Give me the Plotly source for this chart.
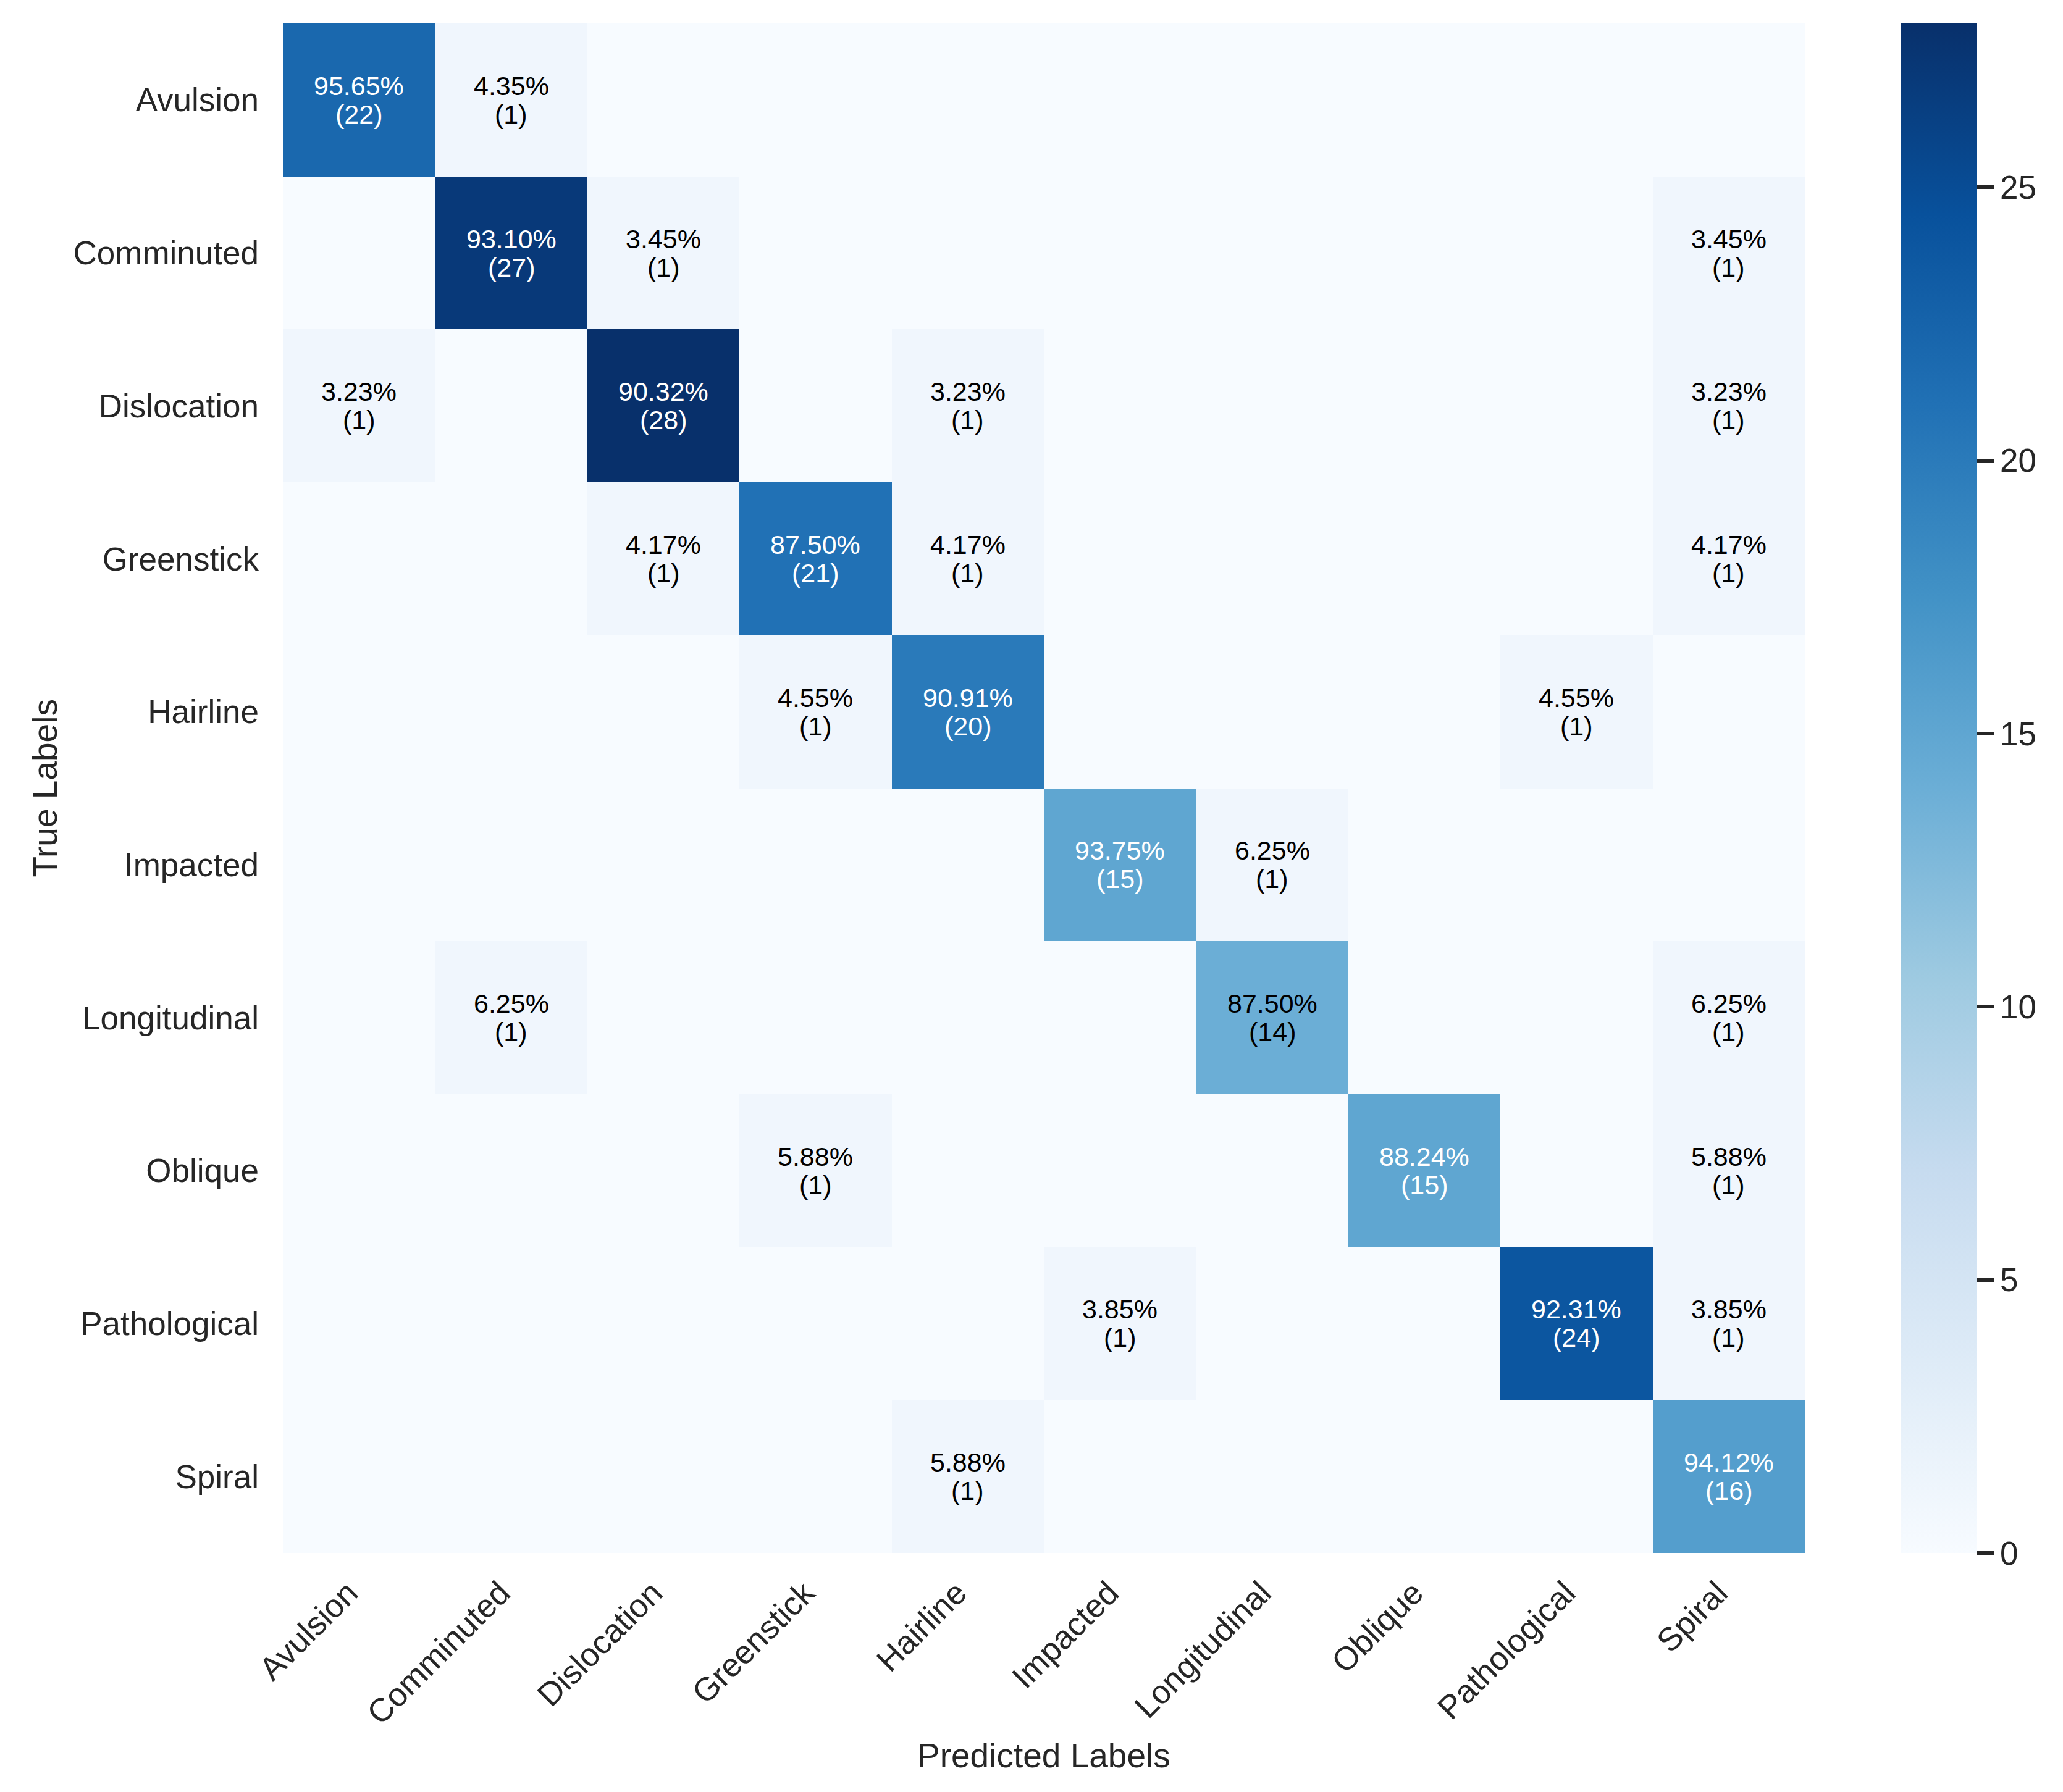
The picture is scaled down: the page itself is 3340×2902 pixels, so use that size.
import plotly.graph_objects as go

labels = ["Avulsion", "Comminuted", "Dislocation", "Greenstick", "Hairline",
          "Impacted", "Longitudinal", "Oblique", "Pathological", "Spiral"]

counts = [
    [22, 1, 0, 0, 0, 0, 0, 0, 0, 0],
    [0, 27, 1, 0, 0, 0, 0, 0, 0, 1],
    [1, 0, 28, 0, 1, 0, 0, 0, 0, 1],
    [0, 0, 1, 21, 1, 0, 0, 0, 0, 1],
    [0, 0, 0, 1, 20, 0, 0, 0, 1, 0],
    [0, 0, 0, 0, 0, 15, 1, 0, 0, 0],
    [0, 1, 0, 0, 0, 0, 14, 0, 0, 1],
    [0, 0, 0, 1, 0, 0, 0, 15, 0, 1],
    [0, 0, 0, 0, 0, 1, 0, 0, 24, 1],
    [0, 0, 0, 0, 1, 0, 0, 0, 0, 16],
]

cbar_ticks = [0, 5, 10, 15, 20, 25]

blues = ["#f7fbff", "#deebf7", "#c6dbef", "#9ecae1", "#6baed6",
         "#4292c6", "#2171b5", "#08519c", "#08306b"]
colorscale = [[i / (len(blues) - 1), c] for i, c in enumerate(blues)]

W, H = 3340, 2902
L, R, T, B = 458, 2922, 38, 2515
FONT = "Liberation Sans, Arial, sans-serif"
TXT = "#262626"
XLABEL_SHIFT = 0.07  # rotated labels end left of cell centre (right-aligned bbox)

n = len(labels)
idx = list(range(n))
zmax = max(max(r) for r in counts)
thresh = zmax / 2

fig = go.Figure()
fig.add_trace(go.Heatmap(
    z=counts, x=idx, y=idx,
    colorscale=colorscale, zmin=0, zmax=zmax,
    hoverinfo="skip",
    colorbar=dict(
        x=(3077 - L) / (R - L), xanchor="left", xpad=0,
        y=0.5, yanchor="middle", ypad=0,
        len=1, lenmode="fraction",
        thickness=123, thicknessmode="pixels",
        outlinewidth=0,
        tickvals=cbar_ticks, ticks="outside", ticklen=28, tickwidth=6,
        tickcolor=TXT,
        tickfont=dict(family=FONT, size=53, color=TXT),
    ),
))

annotations = []
for i, row in enumerate(counts):
    tot = sum(row)
    for j, v in enumerate(row):
        if v == 0:
            continue
        tc = "white" if v > thresh else "black"
        pct = 100 * v / tot
        for txt, shift in ((f"{pct:.2f}%", 23), (f"({v})", -23)):
            annotations.append(dict(
                x=j, y=i, xref="x", yref="y",
                text=txt, showarrow=False, yshift=shift,
                font=dict(family=FONT, size=43, color=tc),
            ))

annotations.append(dict(
    text="Predicted Labels", xref="paper", yref="paper",
    x=0.5, y=(B - 2843) / (B - T), xanchor="center", yanchor="middle",
    showarrow=False, font=dict(family=FONT, size=55, color=TXT),
))
annotations.append(dict(
    text="True Labels", xref="paper", yref="paper",
    x=(72 - L) / (R - L), y=0.5, xanchor="center", yanchor="middle",
    textangle=-90, showarrow=False, font=dict(family=FONT, size=55, color=TXT),
))

fig.update_layout(
    width=W, height=H,
    margin=dict(l=L, r=W - R, t=T, b=H - B, pad=0),
    paper_bgcolor="white", plot_bgcolor="white",
    annotations=annotations,
    xaxis=dict(
        range=[-0.5, n - 0.5], showgrid=False, zeroline=False,
        showline=False, ticks="", tickangle=-45, ticklabelstandoff=22,
        tickmode="array", tickvals=[k - XLABEL_SHIFT for k in idx], ticktext=labels,
        tickfont=dict(family=FONT, size=53, color=TXT),
    ),
    yaxis=dict(
        range=[n - 0.5, -0.5], showgrid=False, zeroline=False,
        showline=False, ticks="", ticklabelstandoff=38,
        tickmode="array", tickvals=idx, ticktext=labels,
        tickfont=dict(family=FONT, size=53, color=TXT),
    ),
)

fig.write_html("out.html", config={"displayModeBar": False},
               post_script="document.body.style.margin='0';")
